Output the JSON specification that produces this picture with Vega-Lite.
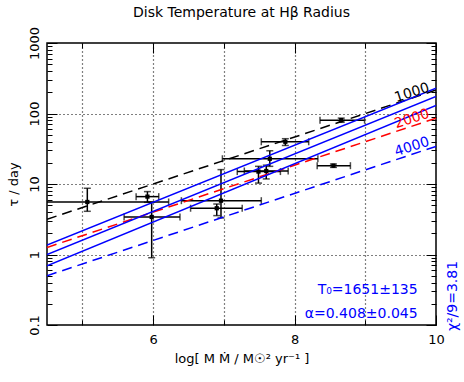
{
  "$schema": "https://vega.github.io/schema/vega-lite/v6.json",
  "width": 389,
  "height": 282,
  "autosize": {"type": "none"},
  "padding": {"left": 47, "top": 43, "right": 28, "bottom": 57},
  "background": "white",
  "title": {"text": "Disk Temperature at Hβ Radius", "font": "DejaVu Sans", "fontSize": 14, "fontWeight": "normal", "color": "black", "offset": 6},
  "config": {
    "view": {"stroke": "black", "strokeWidth": 1.5},
    "axis": {"domain": false, "labelFont": "DejaVu Sans", "labelFontSize": 13, "labelColor": "black", "titleFont": "DejaVu Sans", "titleFontSize": 13, "titleFontWeight": "normal", "titleColor": "black", "tickColor": "black", "tickWidth": 1}
  },
  "datasets": {
    "pts": [
      {"x": 5.07, "y": 5.56, "xlo": 3.92, "xhi": 6.22, "ylo": 4.1, "yhi": 8.7},
      {"x": 5.92, "y": 6.62, "xlo": 5.76, "xhi": 6.08, "ylo": 5.5, "yhi": 7.8},
      {"x": 5.98, "y": 3.41, "xlo": 5.59, "xhi": 6.38, "ylo": 0.9, "yhi": 5.5},
      {"x": 6.96, "y": 5.8, "xlo": 6.4, "xhi": 7.53, "ylo": 3.3, "yhi": 16},
      {"x": 6.9, "y": 4.53, "xlo": 6.53, "xhi": 7.26, "ylo": 3.56, "yhi": 5.2},
      {"x": 7.65, "y": 22.8, "xlo": 6.98, "xhi": 8.33, "ylo": 17.8, "yhi": 29.6},
      {"x": 7.49, "y": 15, "xlo": 7.19, "xhi": 7.8, "ylo": 10.3, "yhi": 17.8},
      {"x": 7.6, "y": 15.3, "xlo": 7.29, "xhi": 7.91, "ylo": 11.8, "yhi": 18.5},
      {"x": 7.87, "y": 39.7, "xlo": 7.53, "xhi": 8.2, "ylo": 35.2, "yhi": 43.9},
      {"x": 8.66, "y": 80.5, "xlo": 8.36, "xhi": 8.99, "ylo": 75, "yhi": 86},
      {"x": 8.55, "y": 18.2, "xlo": 8.32, "xhi": 8.79, "ylo": 17.2, "yhi": 19.2}
    ],
    "lines": [
      {"series": "1000", "x": 4.5, "y": 3.16},
      {"series": "1000", "x": 10, "y": 215},
      {"series": "2000", "x": 4.5, "y": 1.26},
      {"series": "2000", "x": 10, "y": 85.8},
      {"series": "4000", "x": 4.5, "y": 0.5},
      {"series": "4000", "x": 10, "y": 34.2},
      {"series": "fit_hi", "x": 4.5, "y": 1.36},
      {"series": "fit_hi", "x": 10, "y": 228},
      {"series": "fit", "x": 4.5, "y": 1.0},
      {"series": "fit", "x": 10, "y": 174},
      {"series": "fit_lo", "x": 4.5, "y": 0.69},
      {"series": "fit_lo", "x": 10, "y": 130}
    ],
    "labels": [
      {"series": "1000", "text": "1000", "x": 9.66, "y": 195},
      {"series": "2000", "text": "2000", "x": 9.66, "y": 83.5},
      {"series": "4000", "text": "4000", "x": 9.66, "y": 33.5}
    ],
    "notes": [
      {"text": "T₀=1651±135", "x": 9.74, "y": 0.313},
      {"text": "α=0.408±0.045", "x": 9.74, "y": 0.143}
    ],
    "chi": [
      {"text": "χ²/9=3.81", "x": 10.24, "y": 0.258}
    ]
  },
  "layer": [
    {
      "data": {"name": "pts"},
      "mark": {"type": "square", "size": 18, "color": "black", "opacity": 1},
      "encoding": {
        "x": {"field": "x", "type": "quantitative", "scale": {"domain": [4.5, 10], "nice": false, "zero": false},
          "axis": {"values": [5, 6, 7, 8, 9, 10], "labelExpr": "datum.value % 2 == 0 ? datum.label : ''",
            "tickSize": {"condition": {"test": "datum.value % 2 == 0", "value": -10}, "value": -5},
            "grid": true, "gridColor": "black", "gridDash": [1, 3], "gridWidth": 1.2,
            "gridOpacity": {"condition": {"test": "datum.value < 9.9", "value": 1}, "value": 0},
            "labelPadding": 18, "labelFlush": false, "title": "log[ M Ṁ / M☉² yr⁻¹ ]", "titlePadding": 6}},
        "y": {"field": "y", "type": "quantitative", "scale": {"type": "log", "domain": [0.1, 1000], "nice": false},
          "axis": {"values": [0.1, 0.2, 0.3, 0.4, 0.5, 0.6, 0.7, 0.8, 0.9, 1, 2, 3, 4, 5, 6, 7, 8, 9, 10, 20, 30, 40, 50, 60, 70, 80, 90, 100, 200, 300, 400, 500, 600, 700, 800, 900, 1000],
            "labelExpr": "indexof([0.1, 1, 10, 100, 1000], datum.value) >= 0 ? (datum.value < 1 ? '0.1' : format(datum.value, 'd')) : ''",
            "tickSize": {"condition": {"test": "indexof([0.1, 1, 10, 100, 1000], datum.value) >= 0", "value": -10}, "value": -5},
            "grid": true, "gridColor": "black", "gridDash": [1, 3], "gridWidth": 1.2,
            "gridOpacity": {"condition": {"test": "indexof([1, 10, 100], datum.value) >= 0", "value": 1}, "value": 0},
            "labelAngle": 270, "labelAlign": "center", "labelBaseline": "bottom", "labelPadding": 16, "labelFlush": false,
            "title": "τ / day", "titlePadding": 8}}
      }
    },
    {
      "data": {"name": "pts"},
      "mark": {"type": "rule", "color": "black", "strokeWidth": 1.5, "clip": true},
      "encoding": {
        "x": {"field": "xlo", "type": "quantitative", "axis": null},
        "x2": {"field": "xhi"},
        "y": {"field": "y", "type": "quantitative", "axis": null}
      }
    },
    {
      "data": {"name": "pts"},
      "mark": {"type": "rule", "color": "black", "strokeWidth": 1.5, "clip": true},
      "encoding": {
        "x": {"field": "x", "type": "quantitative", "axis": null},
        "y": {"field": "ylo", "type": "quantitative", "axis": null},
        "y2": {"field": "yhi"}
      }
    },
    {
      "data": {"name": "pts"},
      "transform": [{"fold": ["xlo", "xhi"], "as": ["end", "xe"]}],
      "mark": {"type": "tick", "orient": "vertical", "color": "black", "size": 7, "thickness": 1.5, "clip": true},
      "encoding": {
        "x": {"field": "xe", "type": "quantitative", "axis": null},
        "y": {"field": "y", "type": "quantitative", "axis": null}
      }
    },
    {
      "data": {"name": "pts"},
      "transform": [{"fold": ["ylo", "yhi"], "as": ["end", "ye"]}],
      "mark": {"type": "tick", "orient": "horizontal", "color": "black", "size": 7, "thickness": 1.5, "clip": true},
      "encoding": {
        "x": {"field": "x", "type": "quantitative", "axis": null},
        "y": {"field": "ye", "type": "quantitative", "axis": null}
      }
    },
    {
      "data": {"name": "lines"},
      "transform": [{"filter": "indexof(['1000','2000','4000'], datum.series) >= 0"}],
      "mark": {"type": "line", "strokeWidth": 1.5, "strokeDash": [10, 6], "clip": true},
      "encoding": {
        "x": {"field": "x", "type": "quantitative", "axis": null},
        "y": {"field": "y", "type": "quantitative", "axis": null},
        "color": {"field": "series", "type": "nominal", "scale": {"domain": ["1000", "2000", "4000"], "range": ["black", "red", "blue"]}, "legend": null}
      }
    },
    {
      "data": {"name": "lines"},
      "transform": [{"filter": "indexof(['fit','fit_hi','fit_lo'], datum.series) >= 0"}],
      "mark": {"type": "line", "strokeWidth": 1.5, "color": "blue", "clip": true},
      "encoding": {
        "x": {"field": "x", "type": "quantitative",
          "axis": {"orient": "top", "values": [5, 6, 7, 8, 9, 10], "labels": false, "title": null, "grid": false,
            "tickSize": {"condition": {"test": "datum.value % 2 == 0", "value": -10}, "value": -5}}},
        "y": {"field": "y", "type": "quantitative",
          "axis": {"orient": "right", "values": [0.1, 0.2, 0.3, 0.4, 0.5, 0.6, 0.7, 0.8, 0.9, 1, 2, 3, 4, 5, 6, 7, 8, 9, 10, 20, 30, 40, 50, 60, 70, 80, 90, 100, 200, 300, 400, 500, 600, 700, 800, 900, 1000],
            "labels": false, "title": null, "grid": false,
            "tickSize": {"condition": {"test": "indexof([0.1, 1, 10, 100, 1000], datum.value) >= 0", "value": -10}, "value": -5}}},
        "detail": {"field": "series", "type": "nominal"}
      }
    },
    {
      "data": {"name": "labels"},
      "mark": {"type": "text", "font": "DejaVu Sans", "fontSize": 14, "angle": 342, "align": "center", "baseline": "middle"},
      "encoding": {
        "x": {"field": "x", "type": "quantitative", "axis": null},
        "y": {"field": "y", "type": "quantitative", "axis": null},
        "text": {"field": "text"},
        "color": {"field": "series", "type": "nominal", "scale": {"domain": ["1000", "2000", "4000"], "range": ["black", "red", "blue"]}, "legend": null}
      }
    },
    {
      "data": {"name": "notes"},
      "mark": {"type": "text", "font": "DejaVu Sans", "fontSize": 14, "align": "right", "baseline": "middle", "color": "blue"},
      "encoding": {
        "x": {"field": "x", "type": "quantitative", "axis": null},
        "y": {"field": "y", "type": "quantitative", "axis": null},
        "text": {"field": "text"}
      }
    },
    {
      "data": {"name": "chi"},
      "mark": {"type": "text", "font": "DejaVu Sans", "fontSize": 14, "angle": 270, "align": "center", "baseline": "middle", "color": "blue"},
      "encoding": {
        "x": {"field": "x", "type": "quantitative", "axis": null},
        "y": {"field": "y", "type": "quantitative", "axis": null},
        "text": {"field": "text"}
      }
    }
  ],
  "resolve": {"axis": {"x": "independent", "y": "independent"}}
}
